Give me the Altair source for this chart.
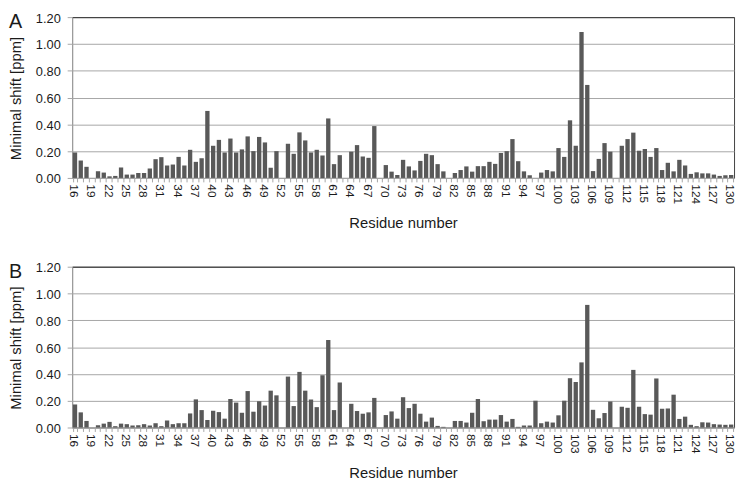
import altair as alt
import pandas as pd

FONT = "Liberation Sans"

residues = list(range(16, 131))
tick_labels = [16, 19, 22, 25, 28, 31, 34, 37, 40, 43, 46, 49, 52, 55, 58, 61,
               64, 67, 70, 73, 76, 79, 82, 85, 88, 91, 94, 97, 100, 103, 106,
               109, 112, 115, 118, 121, 124, 127, 130]
y_ticks = [0.0, 0.2, 0.4, 0.6, 0.8, 1.0, 1.2]

# Panel A (residues 16..130)
shift_a = [
    0.19, 0.13, 0.083, 0.0, 0.05, 0.04, 0.012, 0.015, 0.078, 0.025,      # 16-25
    0.025, 0.037, 0.037, 0.07, 0.14, 0.155, 0.093, 0.10, 0.157, 0.093,   # 26-35
    0.21, 0.12, 0.147, 0.50, 0.24, 0.284, 0.19, 0.294, 0.19, 0.213,      # 36-45
    0.31, 0.20, 0.306, 0.265, 0.076, 0.20, 0.0, 0.255, 0.18, 0.34,       # 46-55
    0.28, 0.19, 0.21, 0.167, 0.444, 0.103, 0.17, 0.0, 0.196, 0.245,      # 56-65
    0.16, 0.15, 0.387, 0.0, 0.096, 0.047, 0.022, 0.135, 0.086, 0.056,    # 66-75
    0.127, 0.18, 0.17, 0.103, 0.049, 0.0, 0.037, 0.059, 0.086, 0.047,    # 76-85
    0.088, 0.088, 0.12, 0.105, 0.186, 0.20, 0.29, 0.125, 0.049, 0.02,    # 86-95
    0.0, 0.04, 0.059, 0.049, 0.223, 0.157, 0.43, 0.24, 1.09, 0.694,      # 96-105
    0.051, 0.142, 0.26, 0.196, 0.0, 0.24, 0.29, 0.338, 0.203, 0.216,     # 106-115
    0.157, 0.223, 0.059, 0.113, 0.049, 0.135, 0.093, 0.03, 0.042, 0.034,  # 116-125
    0.034, 0.025, 0.015, 0.02, 0.022,                                    # 126-130
]

# Panel B (residues 16..130)
shift_b = [
    0.172, 0.113, 0.049, 0.0, 0.017, 0.029, 0.042, 0.01, 0.029, 0.025,   # 16-25
    0.015, 0.017, 0.025, 0.015, 0.032, 0.01, 0.052, 0.025, 0.032, 0.032,  # 26-35
    0.105, 0.21, 0.13, 0.056, 0.125, 0.115, 0.066, 0.213, 0.186, 0.11,   # 36-45
    0.272, 0.118, 0.196, 0.164, 0.275, 0.24, 0.0, 0.38, 0.16, 0.415,     # 46-55
    0.275, 0.209, 0.152, 0.39, 0.653, 0.13, 0.336, 0.0, 0.177, 0.123,    # 56-65
    0.103, 0.113, 0.221, 0.0, 0.093, 0.12, 0.066, 0.226, 0.145, 0.177,   # 66-75
    0.103, 0.044, 0.074, 0.012, 0.005, 0.0, 0.049, 0.049, 0.037, 0.11,   # 76-85
    0.213, 0.047, 0.059, 0.059, 0.093, 0.044, 0.064, 0.005, 0.015, 0.015,  # 86-95
    0.2, 0.032, 0.044, 0.037, 0.091, 0.2, 0.368, 0.339, 0.486, 0.915,    # 96-105
    0.132, 0.069, 0.108, 0.194, 0.0, 0.155, 0.147, 0.43, 0.155, 0.1,     # 106-115
    0.096, 0.366, 0.14, 0.142, 0.245, 0.064, 0.081, 0.02, 0.01, 0.039,   # 116-125
    0.037, 0.025, 0.022, 0.02, 0.022,                                    # 126-130
]

BAR = "#595959"
GRID = "#a6a6a6"
TEXT = "#1a1a1a"

label_expr = "indexof([" + ",".join(str(v) for v in tick_labels) + "], datum.value) >= 0 ? datum.label : ''"


def panel(values, letter):
    df = pd.DataFrame({"residue": residues, "shift": values})
    bars = alt.Chart(df).mark_bar(color=BAR).encode(
        x=alt.X(
            "residue:O",
            title="Residue number",
            sort="ascending",
            scale=alt.Scale(paddingInner=0.25, paddingOuter=0.125),
            axis=alt.Axis(
                labelAngle=90,
                labelFontSize=12,
                labelExpr=label_expr,
                labelOverlap=False,
                labelPadding=2,
                labelOffset=-1.5,
                tickBand="extent",
                tickSize=4,
                tickColor=GRID,
                domainColor=GRID,
                grid=False,
                titleFontSize=15,
                titleFontWeight="normal",
                titleY=38.5,
                titleBaseline="top",
            ),
        ),
        y=alt.Y(
            "shift:Q",
            title="Minimal shift [ppm]",
            scale=alt.Scale(domain=[0, 1.2], nice=False),
            axis=alt.Axis(
                values=y_ticks,
                format=".2f",
                labelFontSize=13,
                labelPadding=7,
                labelOffset=1,
                tickSize=5,
                tickColor=GRID,
                domainColor=GRID,
                grid=True,
                gridColor={"condition": {"test": "datum.value >= 1.19", "value": "#404040"}, "value": GRID},
                titleFontSize=15,
                titleFontWeight="normal",
                titleAngle=270,
                titleBaseline="bottom",
                titleAlign="center",
                titleX=-49,
                titleY=82,
            ),
        ),
    )
    tag = alt.Chart(pd.DataFrame({"t": [letter]})).mark_text(
        align="left", baseline="alphabetic", fontSize=20, font=FONT, color=TEXT
    ).encode(text="t:N", x=alt.value(-64), y=alt.value(11))
    return alt.layer(bars, tag).properties(width=671, height=163)


chart = alt.vconcat(panel(shift_a, "A"), panel(shift_b, "B"), spacing=30).properties(
    padding=0
).configure_view(stroke="#404040", strokeWidth=1).configure_axis(
    labelFont=FONT, titleFont=FONT, labelColor=TEXT, titleColor=TEXT
).configure_text(font=FONT)

chart.save("out.html", embed_options={"renderer": "svg", "actions": False})
